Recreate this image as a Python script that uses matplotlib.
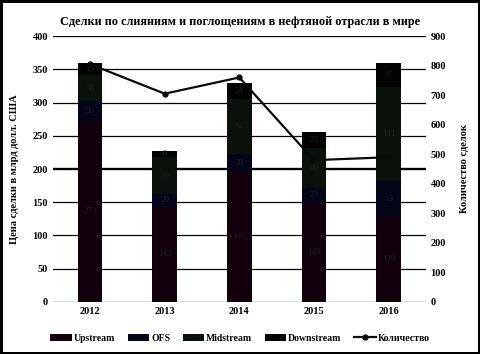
import matplotlib.pyplot as plt
import numpy as np

plt.rcParams['font.family'] = ['Liberation Serif', 'DejaVu Serif']

years = ['2012', '2013', '2014', '2015', '2016']
upstream = [273, 143, 195, 149, 129]
ofs = [30, 20, 28, 23, 53]
midstream = [38, 55, 82, 60, 141]
downstream = [19, 9, 24, 23, 37]
deals = [805, 705, 760, 480, 490]

series = [('Upstream', upstream, '#12000c'),
          ('OFS', ofs, '#05051a'),
          ('Midstream', midstream, '#0a110a'),
          ('Downstream', downstream, '#020202')]

fig = plt.figure(figsize=(4.8, 3.54), dpi=100, edgecolor='black', linewidth=2.5)
ax = fig.add_axes([0.110, 0.147, 0.777, 0.751])
x = np.arange(len(years))

# gridlines
for v in range(0, 401, 50):
    ax.axhline(v, color='black', lw=1.7 if v == 200 else 0.9, zorder=0)

bottom = np.zeros(len(years))
for name, vals, col in series:
    ax.bar(x, vals, 0.33, bottom=bottom, color=col, label=name, zorder=2)
    for xi, b, v in zip(x, bottom, vals):
        ax.text(xi, b + v / 2, str(v), ha='center', va='center',
                fontsize=6.5, color='#201e22', zorder=3)
    bottom += vals

ax.set_xlim(-0.5, 4.5)
ax.set_ylim(0, 400)
ax.set_yticks(range(0, 401, 50))
ax.set_xticks(x, years)
ax.tick_params(length=0, labelsize=7.5)
for lab in ax.get_xticklabels() + ax.get_yticklabels():
    lab.set_fontweight('bold')
for s in ax.spines.values():
    s.set_visible(False)
ax.set_ylabel('Цена сделки в млрд долл. США', fontsize=7.5, fontweight='bold', labelpad=10)

ax2 = ax.twinx()
ax2.plot(x, deals, color='#0a0a0a', lw=1.6, marker='o', markersize=3.5,
         markerfacecolor='#0a0a0a', label='Количество', zorder=4)
ax2.set_ylim(0, 900)
ax2.set_yticks(range(0, 901, 100))
ax2.tick_params(length=0, labelsize=7.5)
for lab in ax2.get_yticklabels():
    lab.set_fontweight('bold')
for s in ax2.spines.values():
    s.set_visible(False)
ax2.set_ylabel('Количество сделок', fontsize=7.5, fontweight='bold', rotation=90, labelpad=10)

h1, l1 = ax.get_legend_handles_labels()
h2, l2 = ax2.get_legend_handles_labels()
fig.legend(h1 + h2, l1 + l2, loc='center', bbox_to_anchor=(0.5, 0.045), ncol=5,
           frameon=False, prop={'size': 7, 'weight': 'bold'}, handlelength=2.2,
           columnspacing=1.3, handletextpad=0.2)

fig.suptitle('Сделки по слияниям и поглощениям в нефтяной отрасли в мире',
             y=0.955, fontsize=8.8, fontweight='bold')

fig.savefig('out.png', dpi=100, edgecolor=fig.get_edgecolor())
